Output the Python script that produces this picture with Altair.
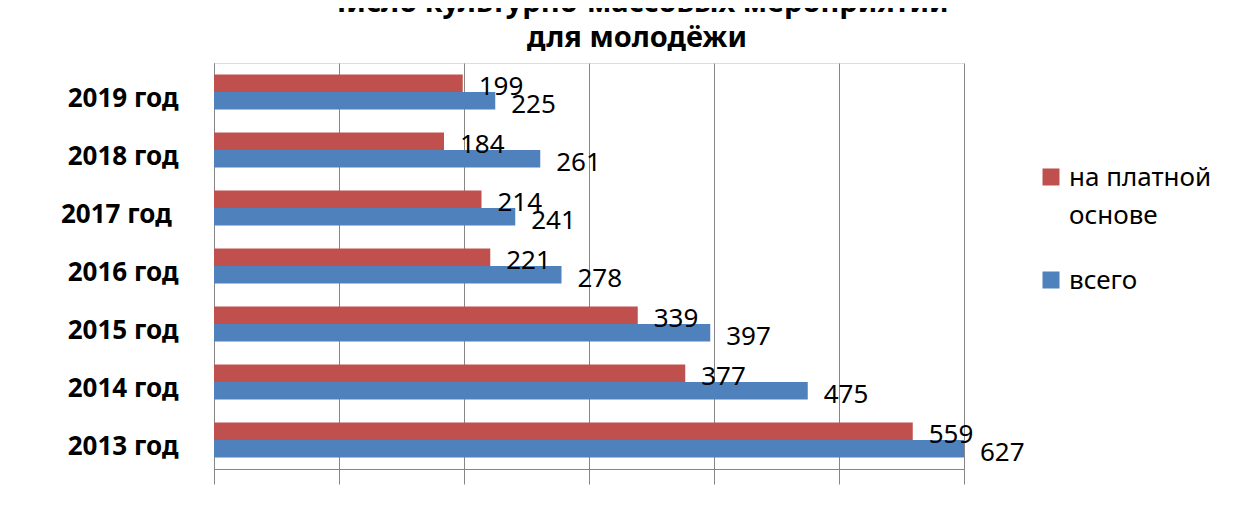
import altair as alt
import pandas as pd

years = ["2019 год", "2018 год", "2017 год\u00a0\u200b", "2016 год", "2015 год", "2014 год", "2013 год"]
paid = [199, 184, 214, 221, 339, 377, 559]
total = [225, 261, 241, 278, 397, 475, 627]
series = ["на платной основе", "всего"]
colors = ["#C0504D", "#4F81BD"]
title_lines = ["Число культурно-массовых мероприятий", "для молодёжи"]
grid_values = [0, 100, 200, 300, 400, 500, 600]

rows = []
for yr, p, t in zip(years, paid, total):
    rows.append({"year": yr, "series": series[0], "value": p})
    rows.append({"year": yr, "series": series[1], "value": t})
df = pd.DataFrame(rows)

FONT = "Noto Sans"
GRAY = "#868686"

base = alt.Chart(df).encode(
    y=alt.Y(
        "year:N",
        sort=years,
        scale=alt.Scale(paddingInner=0.4, paddingOuter=0.2),
        axis=alt.Axis(
            title=None, ticks=False, labelFontSize=26, labelFontWeight="bold",
            labelFont=FONT, labelColor="#000000", labelPadding=36, labelOffset=7,
            domainColor=GRAY, grid=False,
        ),
    ),
    yOffset=alt.YOffset("series:N", sort=series),
)

bars = base.mark_bar(clip=True).encode(
    x=alt.X(
        "value:Q",
        scale=alt.Scale(domain=[0, 600], nice=False),
        axis=alt.Axis(
            title=None, labels=False, values=grid_values, tickSize=15,
            tickColor=GRAY, domainColor=GRAY, gridColor=GRAY, grid=True,
        ),
    ),
    color=alt.Color(
        "series:N",
        sort=series,
        scale=alt.Scale(domain=series, range=colors),
        legend=alt.Legend(
            title=None, orient="none", legendX=824, legendY=110,
            symbolType="M-1,-2.06H1V-0.06H-1Z", symbolSize=289, symbolStrokeWidth=0,
            labelFont=FONT, labelFontSize=26, labelColor="#000000",
            labelBaseline="alphabetic", labelOffset=5, rowPadding=39, labelLimit=400,
            labelExpr="datum.label == 'на платной основе' ? ['на платной', 'основе'] : datum.label",
        ),
    ),
)

labels = base.transform_calculate(xc="min(datum.value, 600)").mark_text(
    align="left", baseline="middle", dx=16, dy=4, fontSize=26, font=FONT, color="#000000"
).encode(
    x=alt.X("xc:Q"),
    text=alt.Text("value:Q"),
)

chart = alt.layer(bars, labels).properties(
    width=750,
    height=406,
    title=alt.TitleParams(
        text=title_lines, font=FONT, fontSize=29, fontWeight="bold", lineHeight=35,
        offset=10, dx=48, anchor="middle", frame="group", color="#000000",
    ),
    autosize=alt.AutoSizeParams(type="none"),
    padding={"left": 206, "top": 55, "right": 288, "bottom": 33},
).configure_view(stroke=None).configure(
    background="white",
    style={"guide-label": {"lineHeight": 38}},
)

chart.save("out.html", embed_options={"renderer": "svg", "actions": False})
